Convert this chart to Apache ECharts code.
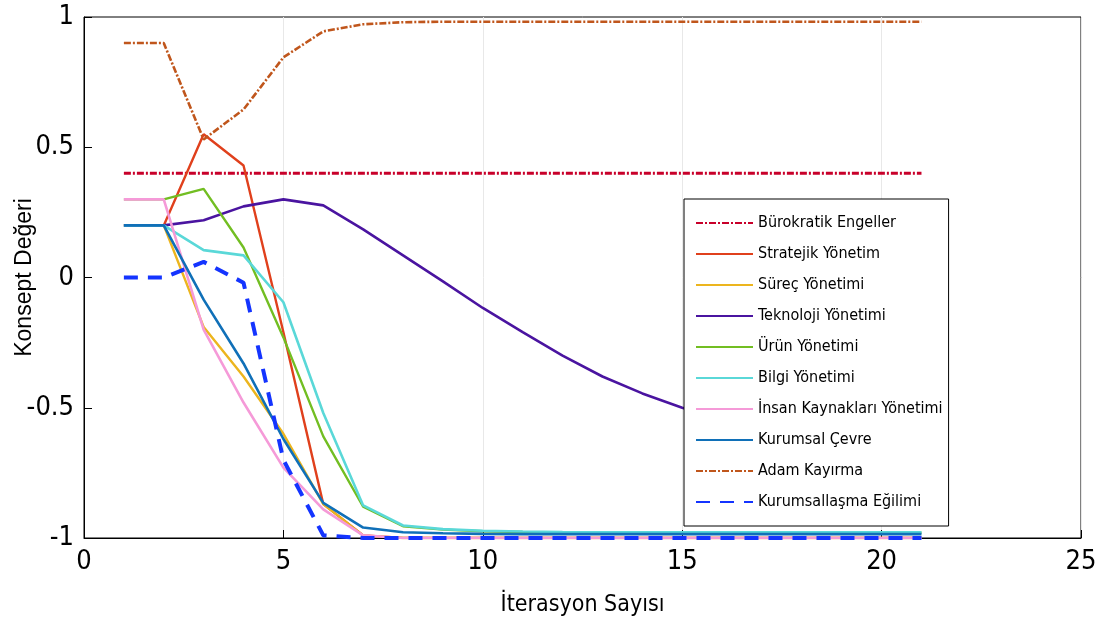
<!DOCTYPE html>
<html>
<head>
<meta charset="utf-8">
<script src="https://cdn.jsdelivr.net/npm/echarts@6/dist/echarts.min.js"></script>
<style>html,body{margin:0;padding:0;background:#fff;}#c{width:1099px;height:634px;}</style>
</head>
<body>
<div id="c"></div>
<script>
const iterations = [1,2,3,4,5,6,7,8,9,10,11,12,13,14,15,16,17,18,19,20,21];
const seriesNames = ['Bürokratik Engeller','Stratejik Yönetim','Süreç Yönetimi','Teknoloji Yönetimi','Ürün Yönetimi','Bilgi Yönetimi','İnsan Kaynakları Yönetimi','Kurumsal Çevre','Adam Kayırma','Kurumsallaşma Eğilimi'];
const burokratik = [0.4,0.4,0.4,0.4,0.4,0.4,0.4,0.4,0.4,0.4,0.4,0.4,0.4,0.4,0.4,0.4,0.4,0.4,0.4,0.4,0.4];
const stratejik = [0.2,0.2,0.55,0.43,-0.21,-0.87,-0.99,-1,-1,-1,-1,-1,-1,-1,-1,-1,-1,-1,-1,-1,-1];
const surec = [0.2,0.2,-0.19,-0.38,-0.6,-0.87,-0.99,-1,-1,-1,-1,-1,-1,-1,-1,-1,-1,-1,-1,-1,-1];
const teknoloji = [0.2,0.2,0.22,0.273,0.3,0.277,0.185,0.085,-0.015,-0.117,-0.21,-0.3,-0.38,-0.445,-0.5,-0.545,-0.58,-0.61,-0.635,-0.655,-0.67];
const urun = [0.3,0.3,0.34,0.115,-0.23,-0.61,-0.88,-0.955,-0.968,-0.974,-0.977,-0.979,-0.98,-0.98,-0.98,-0.98,-0.98,-0.98,-0.98,-0.98,-0.98];
const bilgi = [0.2,0.2,0.105,0.085,-0.095,-0.52,-0.875,-0.952,-0.966,-0.972,-0.975,-0.977,-0.978,-0.978,-0.978,-0.978,-0.978,-0.978,-0.978,-0.978,-0.978];
const insan = [0.3,0.3,-0.2,-0.48,-0.73,-0.89,-0.99,-1,-1,-1,-1,-1,-1,-1,-1,-1,-1,-1,-1,-1,-1];
const kurumsal = [0.2,0.2,-0.085,-0.33,-0.62,-0.865,-0.96,-0.978,-0.982,-0.984,-0.985,-0.985,-0.985,-0.985,-0.985,-0.985,-0.985,-0.985,-0.985,-0.985,-0.985];
const adam = [0.9,0.9,0.53,0.645,0.845,0.945,0.972,0.98,0.982,0.982,0.982,0.982,0.982,0.982,0.982,0.982,0.982,0.982,0.982,0.982,0.982];
const kurumsallasma = [0,0,0.06,-0.02,-0.7,-0.99,-1,-1,-1,-1,-1,-1,-1,-1,-1,-1,-1,-1,-1,-1,-1];
const xTicks = [0,5,10,15,20,25];
const yTicks = [-1,-0.5,0,0.5,1];

const values = [burokratik,stratejik,surec,teknoloji,urun,bilgi,insan,kurumsal,adam,kurumsallasma];
const colors = ['#c8002a','#e0401c','#ecb51e','#4a14a0','#72be22','#5ad8d8','#f59ad8','#1070b8','#c0561c','#1434ff'];
const widths = [3,2.4,2.4,2.6,2.4,2.6,2.6,2.6,2.6,4];
const dashes = [[7,2,2,2],'solid','solid','solid','solid','solid','solid','solid',[7,2,2,2],[14,10]];

const narrow = "'DejaVu Sans Condensed','Liberation Sans Narrow',sans-serif";
const chart = echarts.init(document.getElementById('c'), null, {renderer:'canvas'});
const series = seriesNames.map((n,i)=>({
  name:n, type:'line', symbol:'none', animation:false,
  data: iterations.map((x,j)=>[x, values[i][j]]),
  lineStyle:{color:colors[i], width:widths[i], type:dashes[i]},
  itemStyle:{color:colors[i]}
}));
chart.setOption({
  animation:false,
  backgroundColor:'#fff',
  grid:{left:84,right:18,top:17,bottom:96,containLabel:false,outerBoundsMode:'none',
    show:true,borderColor:'#000',borderWidth:1,backgroundColor:'#fff'},
  xAxis:{type:'value',min:0,max:25,interval:5,
    name:'İterasyon Sayısı',nameLocation:'middle',nameGap:56,nameMoveOverlap:false,
    nameTextStyle:{fontFamily:narrow,fontSize:23,color:'#000'},
    axisLine:{show:true,onZero:false,lineStyle:{color:'#000'}},
    axisTick:{show:true,inside:true,length:8,lineStyle:{color:'#000'}},
    axisLabel:{fontFamily:narrow,fontSize:27,color:'#000',margin:10,
      customValues: xTicks},
    splitLine:{show:true,lineStyle:{color:'#e8e8e8',width:1}}},
  yAxis:{type:'value',min:-1,max:1,interval:0.5,
    name:'Konsept Değeri',nameLocation:'middle',nameGap:48,nameRotate:90,nameMoveOverlap:false,
    nameTextStyle:{fontFamily:"'Liberation Sans',Arial,sans-serif",fontSize:23,color:'#000'},
    axisLine:{show:true,onZero:false,lineStyle:{color:'#000'}},
    axisTick:{show:true,inside:true,length:8,lineStyle:{color:'#000'}},
    axisLabel:{fontFamily:narrow,fontSize:27,color:'#000',margin:10,
      customValues: yTicks},
    splitLine:{show:false}},
  legend:{orient:'vertical',left:684,top:199,
    data:seriesNames,
    itemWidth:57,itemHeight:14,itemGap:15,
    padding:[16,6,16,11],
    backgroundColor:'#fff',borderColor:'#000',borderWidth:1,
    itemStyle:{opacity:0},
    textStyle:{fontFamily:narrow,fontSize:16,color:'#000'},
    inactiveColor:'#ccc'},
  series: series
});
</script>
</body>
</html>
